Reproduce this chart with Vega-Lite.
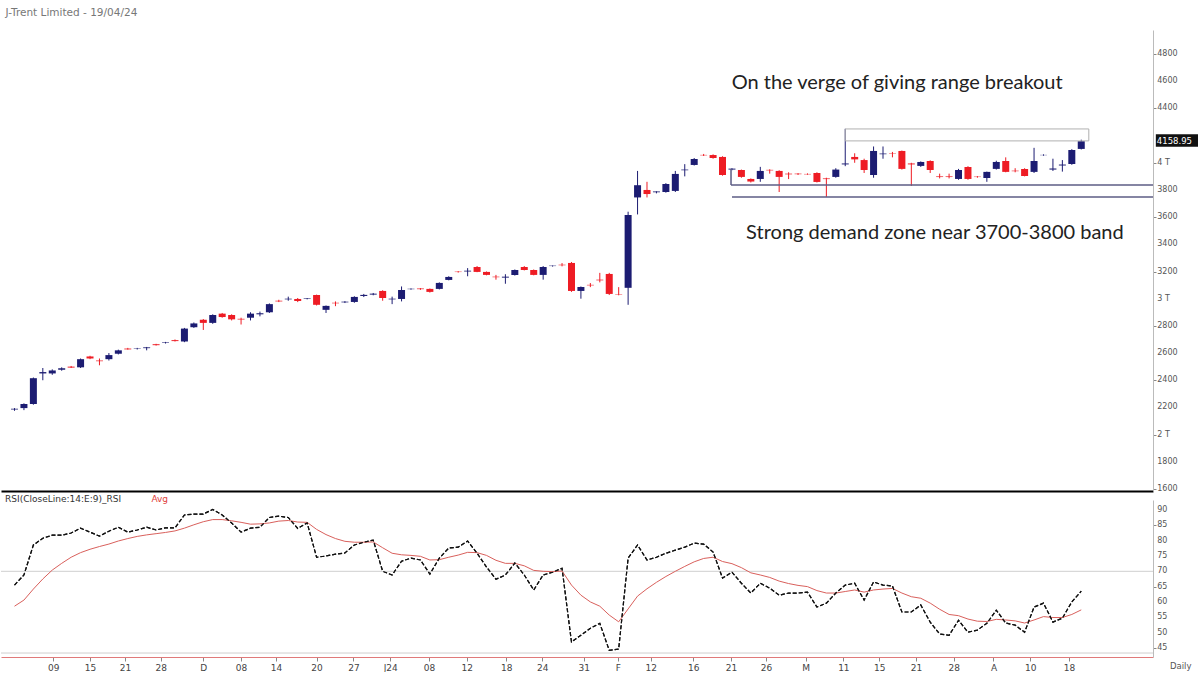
{
  "$schema": "https://vega.github.io/schema/vega-lite/v6.json",
  "background": "white",
  "padding": {"left": 0, "top": 7, "right": 0, "bottom": 0},
  "title": {"text": "J-Trent Limited - 19/04/24", "anchor": "start", "fontSize": 10.5, "fontWeight": "normal", "color": "#777", "font": "DejaVu Sans", "offset": 12, "frame": "bounds", "dx": 5},
  "config": {"view": {"stroke": null}, "axis": {"labelFont": "DejaVu Sans", "labelFontSize": 8, "labelColor": "#555", "grid": false, "labelOverlap": false}},
  "spacing": 2,
  "datasets": {
    "candles": [
      {"i":0,"o":2185,"h":2195,"l":2175,"c":2190,"r":65.5,"a":58.6},
      {"i":1,"o":2195,"h":2230,"l":2180,"c":2225,"r":68.8,"a":60.6},
      {"i":2,"o":2225,"h":2420,"l":2220,"c":2415,"r":78.6,"a":64.2},
      {"i":3,"o":2450,"h":2490,"l":2400,"c":2460,"r":80.8,"a":67.5},
      {"i":4,"o":2450,"h":2480,"l":2440,"c":2472,"r":81.8,"a":70.4},
      {"i":5,"o":2478,"h":2495,"l":2470,"c":2488,"r":81.8,"a":72.6},
      {"i":6,"o":2500,"h":2505,"l":2490,"c":2493,"r":82.5,"a":74.6},
      {"i":7,"o":2495,"h":2560,"l":2490,"c":2555,"r":84.1,"a":76.1},
      {"i":8,"o":2575,"h":2580,"l":2555,"c":2560,"r":82.8,"a":77.2},
      {"i":9,"o":2545,"h":2560,"l":2510,"c":2540,"r":81.5,"a":78.1},
      {"i":10,"o":2555,"h":2600,"l":2545,"c":2585,"r":83.1,"a":78.9},
      {"i":11,"o":2595,"h":2625,"l":2590,"c":2620,"r":84.4,"a":79.9},
      {"i":12,"o":2633,"h":2638,"l":2625,"c":2627,"r":82.8,"a":80.7},
      {"i":13,"o":2631,"h":2638,"l":2626,"c":2634,"r":83.5,"a":81.4},
      {"i":14,"o":2636,"h":2645,"l":2620,"c":2642,"r":84.4,"a":81.9},
      {"i":15,"o":2665,"h":2668,"l":2655,"c":2658,"r":83.5,"a":82.3},
      {"i":16,"o":2675,"h":2682,"l":2670,"c":2679,"r":84.2,"a":82.7},
      {"i":17,"o":2695,"h":2700,"l":2685,"c":2688,"r":84.2,"a":83.2},
      {"i":18,"o":2685,"h":2785,"l":2680,"c":2780,"r":88.4,"a":84.1},
      {"i":19,"o":2790,"h":2825,"l":2785,"c":2818,"r":88.7,"a":85.2},
      {"i":20,"o":2845,"h":2850,"l":2770,"c":2822,"r":88.7,"a":86.2},
      {"i":21,"o":2822,"h":2885,"l":2815,"c":2880,"r":90.2,"a":86.9},
      {"i":22,"o":2890,"h":2895,"l":2860,"c":2865,"r":88.4,"a":86.9},
      {"i":23,"o":2880,"h":2885,"l":2840,"c":2848,"r":85.8,"a":86.5},
      {"i":24,"o":2852,"h":2860,"l":2810,"c":2847,"r":82.8,"a":86.0},
      {"i":25,"o":2860,"h":2900,"l":2840,"c":2890,"r":84.1,"a":85.4},
      {"i":26,"o":2885,"h":2905,"l":2870,"c":2893,"r":84.4,"a":85.5},
      {"i":27,"o":2900,"h":2965,"l":2895,"c":2960,"r":87.6,"a":85.8},
      {"i":28,"o":2985,"h":2992,"l":2975,"c":2980,"r":88.0,"a":86.4},
      {"i":29,"o":2995,"h":3015,"l":2985,"c":3000,"r":87.6,"a":86.6},
      {"i":30,"o":2998,"h":3005,"l":2975,"c":2983,"r":84.0,"a":86.1},
      {"i":31,"o":2998,"h":3005,"l":2995,"c":3002,"r":85.8,"a":86.0},
      {"i":32,"o":3027,"h":3030,"l":2950,"c":2955,"r":74.6,"a":83.7},
      {"i":33,"o":2918,"h":2950,"l":2895,"c":2947,"r":75.0,"a":82.0},
      {"i":34,"o":2970,"h":2980,"l":2945,"c":2966,"r":75.6,"a":80.7},
      {"i":35,"o":2973,"h":2982,"l":2968,"c":2978,"r":76.0,"a":79.8},
      {"i":36,"o":2976,"h":3018,"l":2970,"c":3013,"r":78.6,"a":79.5},
      {"i":37,"o":3020,"h":3035,"l":3012,"c":3028,"r":79.5,"a":79.5},
      {"i":38,"o":3030,"h":3042,"l":3025,"c":3037,"r":80.2,"a":79.6},
      {"i":39,"o":3057,"h":3062,"l":2985,"c":3005,"r":70.0,"a":77.7},
      {"i":40,"o":2995,"h":3015,"l":2960,"c":3000,"r":68.8,"a":75.9},
      {"i":41,"o":2998,"h":3090,"l":2980,"c":3064,"r":73.3,"a":75.4},
      {"i":42,"o":3070,"h":3076,"l":3066,"c":3073,"r":74.3,"a":75.2},
      {"i":43,"o":3075,"h":3078,"l":3065,"c":3070,"r":73.7,"a":74.9},
      {"i":44,"o":3072,"h":3075,"l":3045,"c":3050,"r":69.1,"a":73.7},
      {"i":45,"o":3072,"h":3120,"l":3068,"c":3116,"r":74.3,"a":73.8},
      {"i":46,"o":3138,"h":3165,"l":3135,"c":3160,"r":77.6,"a":74.6},
      {"i":47,"o":3199,"h":3203,"l":3192,"c":3196,"r":77.9,"a":75.3},
      {"i":48,"o":3200,"h":3225,"l":3165,"c":3206,"r":79.9,"a":76.2},
      {"i":49,"o":3233,"h":3240,"l":3195,"c":3197,"r":75.9,"a":76.1},
      {"i":50,"o":3197,"h":3200,"l":3172,"c":3175,"r":71.4,"a":75.2},
      {"i":51,"o":3162,"h":3175,"l":3140,"c":3158,"r":67.4,"a":73.6},
      {"i":52,"o":3155,"h":3180,"l":3110,"c":3162,"r":68.8,"a":72.6},
      {"i":53,"o":3175,"h":3215,"l":3170,"c":3211,"r":72.7,"a":72.6},
      {"i":54,"o":3233,"h":3240,"l":3208,"c":3211,"r":68.8,"a":71.8},
      {"i":55,"o":3211,"h":3215,"l":3172,"c":3175,"r":63.9,"a":70.3},
      {"i":56,"o":3175,"h":3240,"l":3140,"c":3233,"r":68.8,"a":70.0},
      {"i":57,"o":3240,"h":3244,"l":3236,"c":3243,"r":69.7,"a":69.9},
      {"i":58,"o":3250,"h":3262,"l":3238,"c":3246,"r":71.0,"a":70.1},
      {"i":59,"o":3263,"h":3270,"l":3050,"c":3057,"r":46.9,"a":65.5},
      {"i":60,"o":3057,"h":3090,"l":3000,"c":3086,"r":49.1,"a":62.2},
      {"i":61,"o":3102,"h":3115,"l":3085,"c":3098,"r":51.4,"a":60.0},
      {"i":62,"o":3140,"h":3190,"l":3120,"c":3135,"r":53.0,"a":58.6},
      {"i":63,"o":3182,"h":3190,"l":3027,"c":3035,"r":44.2,"a":55.7},
      {"i":64,"o":3033,"h":3085,"l":3025,"c":3030,"r":44.6,"a":53.5},
      {"i":65,"o":3080,"h":3640,"l":2955,"c":3616,"r":74.3,"a":57.7},
      {"i":66,"o":3745,"h":3940,"l":3620,"c":3835,"r":78.6,"a":61.9},
      {"i":67,"o":3800,"h":3860,"l":3745,"c":3770,"r":73.7,"a":64.3},
      {"i":68,"o":3783,"h":3790,"l":3775,"c":3789,"r":74.6,"a":66.4},
      {"i":69,"o":3785,"h":3850,"l":3780,"c":3844,"r":75.9,"a":68.3},
      {"i":70,"o":3793,"h":3940,"l":3785,"c":3918,"r":76.9,"a":70.0},
      {"i":71,"o":3945,"h":3990,"l":3900,"c":3950,"r":77.9,"a":71.6},
      {"i":72,"o":3984,"h":4035,"l":3980,"c":4028,"r":79.2,"a":73.1},
      {"i":73,"o":4058,"h":4065,"l":4050,"c":4055,"r":78.9,"a":74.2},
      {"i":74,"o":4057,"h":4062,"l":4030,"c":4035,"r":76.3,"a":74.6},
      {"i":75,"o":4043,"h":4048,"l":3905,"c":3910,"r":67.8,"a":73.2},
      {"i":76,"o":3950,"h":3960,"l":3945,"c":3957,"r":69.7,"a":72.5},
      {"i":77,"o":3947,"h":3950,"l":3890,"c":3896,"r":66.1,"a":71.2},
      {"i":78,"o":3881,"h":3885,"l":3855,"c":3862,"r":62.9,"a":69.5},
      {"i":79,"o":3881,"h":3970,"l":3860,"c":3940,"r":66.1,"a":68.8},
      {"i":80,"o":3948,"h":3952,"l":3920,"c":3944,"r":64.5,"a":68.0},
      {"i":81,"o":3940,"h":3945,"l":3785,"c":3896,"r":62.2,"a":66.8},
      {"i":82,"o":3920,"h":3930,"l":3880,"c":3915,"r":62.9,"a":66.0},
      {"i":83,"o":3920,"h":3924,"l":3910,"c":3916,"r":62.9,"a":65.4},
      {"i":84,"o":3918,"h":3922,"l":3912,"c":3915,"r":63.2,"a":65.0},
      {"i":85,"o":3925,"h":3930,"l":3855,"c":3859,"r":58.3,"a":63.7},
      {"i":86,"o":3885,"h":3890,"l":3749,"c":3880,"r":59.6,"a":62.9},
      {"i":87,"o":3896,"h":3960,"l":3890,"c":3950,"r":62.9,"a":62.9},
      {"i":88,"o":3988,"h":4250,"l":3975,"c":3995,"r":65.5,"a":63.4},
      {"i":89,"o":4043,"h":4070,"l":4000,"c":4025,"r":66.1,"a":63.9},
      {"i":90,"o":4020,"h":4030,"l":3925,"c":3947,"r":60.6,"a":63.2},
      {"i":91,"o":3910,"h":4120,"l":3890,"c":4087,"r":66.5,"a":63.9},
      {"i":92,"o":4063,"h":4120,"l":4030,"c":4068,"r":65.5,"a":64.2},
      {"i":93,"o":4072,"h":4080,"l":4040,"c":4069,"r":65.2,"a":64.4},
      {"i":94,"o":4087,"h":4090,"l":3950,"c":3955,"r":56.7,"a":62.9},
      {"i":95,"o":3995,"h":4000,"l":3830,"c":3988,"r":56.7,"a":61.7},
      {"i":96,"o":3977,"h":4010,"l":3970,"c":4006,"r":59.0,"a":61.2},
      {"i":97,"o":4013,"h":4018,"l":3925,"c":3947,"r":53.4,"a":59.6},
      {"i":98,"o":3900,"h":3920,"l":3885,"c":3895,"r":49.5,"a":57.6},
      {"i":99,"o":3900,"h":3920,"l":3885,"c":3895,"r":49.1,"a":55.9},
      {"i":100,"o":3881,"h":3955,"l":3875,"c":3947,"r":54.0,"a":55.5},
      {"i":101,"o":3969,"h":3975,"l":3875,"c":3881,"r":50.1,"a":54.4},
      {"i":102,"o":3898,"h":3902,"l":3890,"c":3895,"r":50.8,"a":53.7},
      {"i":103,"o":3888,"h":3935,"l":3860,"c":3933,"r":53.0,"a":53.6},
      {"i":104,"o":3955,"h":4015,"l":3950,"c":4006,"r":57.3,"a":54.3},
      {"i":105,"o":4013,"h":4040,"l":3930,"c":3933,"r":53.1,"a":54.1},
      {"i":106,"o":3942,"h":3960,"l":3930,"c":3938,"r":52.4,"a":53.8},
      {"i":107,"o":3955,"h":3960,"l":3900,"c":3903,"r":50.1,"a":53.1},
      {"i":108,"o":3933,"h":4110,"l":3925,"c":4013,"r":58.3,"a":54.1},
      {"i":109,"o":4056,"h":4062,"l":4052,"c":4058,"r":59.6,"a":55.2},
      {"i":110,"o":3950,"h":4030,"l":3940,"c":3958,"r":53.4,"a":54.9},
      {"i":111,"o":3980,"h":4020,"l":3935,"c":3987,"r":54.7,"a":54.9},
      {"i":112,"o":3991,"h":4100,"l":3985,"c":4094,"r":60.0,"a":55.9},
      {"i":113,"o":4102,"h":4170,"l":4098,"c":4159,"r":63.5,"a":57.4}
    ],
    "box": [{"x":88,"x2":113.8,"y":4161,"y2":4249}],
    "zone": [
      {"x":75.9,"x2":120.6,"y":3837,"y2":3837},
      {"x":76.0,"x2":120.6,"y":3749,"y2":3749},
      {"x":75.9,"x2":75.9,"y":3837,"y2":3955}
    ],
    "notes": [
      {"t":"On the verge of giving range breakout","x":93.5,"y":4590},
      {"t":"Strong demand zone near 3700-3800 band","x":97.5,"y":3480}
    ],
    "plab": [
      {"v":1600,"t":"1600"},{"v":1800,"t":"1800"},{"v":2000,"t":"2 T"},{"v":2200,"t":"2200"},
      {"v":2400,"t":"2400"},{"v":2600,"t":"2600"},{"v":2800,"t":"2800"},{"v":3000,"t":"3 T"},
      {"v":3200,"t":"3200"},{"v":3400,"t":"3400"},{"v":3600,"t":"3600"},{"v":3800,"t":"3800"},
      {"v":4000,"t":"4 T"},{"v":4400,"t":"4400"},{"v":4600,"t":"4600"},{"v":4800,"t":"4800"}
    ],
    "rlab": [
      {"v":45,"t":"45"},{"v":50,"t":"50"},{"v":55,"t":"55"},{"v":60,"t":"60"},{"v":65,"t":"65"},
      {"v":70,"t":"70"},{"v":75,"t":"75"},{"v":80,"t":"80"},{"v":85,"t":"85"},{"v":90,"t":"90"}
    ],
    "last": [{"t":"4158.95","x":120.9,"x2":125.4,"y":4118,"y2":4210,"v":4163}],
    "rsiLevels": [{"v":70},{"v":43.3}],
    "rsiText": [
      {"t":"RSI(CloseLine:14:E:9)_RSI","x":-1.0,"y":93.6,"k":"a"},
      {"t":"Avg","x":14.5,"y":93.6,"k":"b"}
    ],
    "daily": [{"t":"Daily","x":122.4,"y":39.0}]
  },
  "vconcat": [
    {
      "width": 1152,
      "height": 461,
      "layer": [
        {
          "data": {"name": "candles"},
          "mark": {"type": "rule", "strokeWidth": 1},
          "encoding": {
            "x": {"field": "i", "type": "quantitative", "title": null, "scale": {"domain": [-1.43, 120.6], "nice": false, "zero": false, "padding": 0},
                  "axis": {"orient": "bottom", "labels": false, "ticks": false, "domainColor": "#000", "domainWidth": 2}},
            "y": {"field": "l", "type": "quantitative", "title": null, "scale": {"domain": [1585, 4977], "nice": false, "zero": false, "padding": 0},
                  "axis": {"orient": "right", "values": [1600,1800,2000,2200,2400,2600,2800,3000,3200,3400,3600,3800,4000,4200,4400,4600,4800],
                           "labels": false, "tickSize": 3, "tickColor": "#888", "domainColor": "#bbb"}},
            "y2": {"field": "h"},
            "color": {"condition": {"test": "datum.c >= datum.o", "value": "#1c1c72"}, "value": "#ee1c24"}
          }
        },
        {
          "data": {"name": "candles"},
          "mark": {"type": "bar", "size": 7},
          "encoding": {
            "x": {"field": "i", "type": "quantitative", "title": null},
            "y": {"field": "o", "type": "quantitative", "title": null},
            "y2": {"field": "c"},
            "color": {"condition": {"test": "datum.c >= datum.o", "value": "#1c1c72"}, "value": "#ee1c24"}
          }
        },
        {
          "data": {"name": "box"},
          "mark": {"type": "rect", "fill": null, "fillOpacity": 0, "stroke": "#b0b0b0", "strokeWidth": 1},
          "encoding": {
            "x": {"field": "x", "type": "quantitative", "title": null},
            "x2": {"field": "x2"},
            "y": {"field": "y", "type": "quantitative", "title": null},
            "y2": {"field": "y2"}
          }
        },
        {
          "data": {"name": "zone"},
          "mark": {"type": "rule", "color": "#5c5c84", "strokeWidth": 1.5},
          "encoding": {
            "x": {"field": "x", "type": "quantitative", "title": null},
            "x2": {"field": "x2"},
            "y": {"field": "y", "type": "quantitative", "title": null},
            "y2": {"field": "y2"}
          }
        },
        {
          "data": {"name": "notes"},
          "mark": {"type": "text", "font": "Lato", "fontSize": 20, "color": "#222", "align": "center", "baseline": "middle"},
          "encoding": {
            "x": {"field": "x", "type": "quantitative", "title": null},
            "y": {"field": "y", "type": "quantitative", "title": null},
            "text": {"field": "t"}
          }
        },
        {
          "data": {"name": "plab"},
          "mark": {"type": "text", "font": "DejaVu Sans", "fontSize": 8, "color": "#555", "align": "left", "baseline": "middle", "clip": false},
          "encoding": {
            "x": {"datum": 121.05, "type": "quantitative"},
            "y": {"field": "v", "type": "quantitative", "title": null},
            "text": {"field": "t"}
          }
        },
        {
          "data": {"name": "last"},
          "mark": {"type": "rect", "color": "#111", "clip": false},
          "encoding": {
            "x": {"field": "x", "type": "quantitative", "title": null},
            "x2": {"field": "x2"},
            "y": {"field": "y", "type": "quantitative", "title": null},
            "y2": {"field": "y2"}
          }
        },
        {
          "data": {"name": "last"},
          "mark": {"type": "text", "color": "white", "font": "DejaVu Sans", "fontSize": 8.5, "align": "left", "baseline": "middle", "dx": 1},
          "encoding": {
            "x": {"field": "x", "type": "quantitative", "title": null},
            "y": {"field": "v", "type": "quantitative", "title": null},
            "text": {"field": "t"}
          }
        }
      ]
    },
    {
      "width": 1152,
      "height": 157,
      "layer": [
        {
          "data": {"name": "candles"},
          "mark": {"type": "line", "color": "#111", "strokeWidth": 1.2, "strokeDash": [4, 2]},
          "encoding": {
            "x": {"field": "i", "type": "quantitative", "title": null, "scale": {"domain": [-1.43, 120.6], "nice": false, "zero": false, "padding": 0},
                  "axis": {"orient": "bottom", "values": [4.1,8.0,11.7,15.5,20.0,24.0,27.7,32.0,35.9,39.8,43.9,47.9,52.1,55.9,60.3,63.9,67.4,71.9,75.9,79.6,83.8,87.8,91.6,95.5,99.5,103.7,107.6,111.7],
                           "labelExpr": "['09','15','21','28','D','08','14','20','27','J24','08','12','18','24','31','F','12','16','21','26','M','11','15','21','28','A','10','18'][indexof([4.1,8.0,11.7,15.5,20.0,24.0,27.7,32.0,35.9,39.8,43.9,47.9,52.1,55.9,60.3,63.9,67.4,71.9,75.9,79.6,83.8,87.8,91.6,95.5,99.5,103.7,107.6,111.7], datum.value)]",
                           "labelOverlap": false, "domainColor": "#e07a7a", "tickColor": "#888", "tickSize": 4, "labelFontSize": 9, "labelColor": "#444", "labelPadding": 2}},
            "y": {"field": "r", "type": "quantitative", "title": null, "scale": {"domain": [42, 93.3], "nice": false, "zero": false},
                  "axis": {"orient": "right", "values": [45,50,55,60,65,70,75,80,85,90], "labels": false, "tickSize": 3, "tickColor": "#888", "domainColor": "#bbb"}}
          }
        },
        {
          "data": {"name": "rsiLevels"},
          "mark": {"type": "rule", "color": "#cfcfcf", "strokeWidth": 1},
          "encoding": {
            "y": {"field": "v", "type": "quantitative", "title": null}
          }
        },
        {
          "data": {"name": "candles"},
          "mark": {"type": "line", "color": "#d9605c", "strokeWidth": 1},
          "encoding": {
            "x": {"field": "i", "type": "quantitative", "title": null},
            "y": {"field": "a", "type": "quantitative", "title": null}
          }
        },
        {
          "data": {"name": "candles"},
          "mark": {"type": "line", "color": "#111", "strokeWidth": 1.2, "strokeDash": [4, 2]},
          "encoding": {
            "x": {"field": "i", "type": "quantitative", "title": null},
            "y": {"field": "r", "type": "quantitative", "title": null}
          }
        },
        {
          "data": {"name": "rlab"},
          "mark": {"type": "text", "font": "DejaVu Sans", "fontSize": 8, "color": "#555", "align": "left", "baseline": "middle", "clip": false},
          "encoding": {
            "x": {"datum": 121.05, "type": "quantitative"},
            "y": {"field": "v", "type": "quantitative", "title": null},
            "text": {"field": "t"}
          }
        },
        {
          "data": {"name": "rsiText"},
          "mark": {"type": "text", "font": "DejaVu Sans", "fontSize": 9, "align": "left", "baseline": "middle"},
          "encoding": {
            "x": {"field": "x", "type": "quantitative", "title": null},
            "y": {"field": "y", "type": "quantitative", "title": null},
            "text": {"field": "t"},
            "color": {"field": "k", "type": "nominal", "scale": {"domain": ["a", "b"], "range": ["#333", "#e0403c"]}, "legend": null}
          }
        },
        {
          "data": {"name": "daily"},
          "mark": {"type": "text", "font": "DejaVu Sans", "fontSize": 8.5, "align": "left", "baseline": "middle", "color": "#555", "clip": false},
          "encoding": {
            "x": {"field": "x", "type": "quantitative", "title": null},
            "y": {"field": "y", "type": "quantitative", "title": null},
            "text": {"field": "t"}
          }
        }
      ]
    }
  ]
}
